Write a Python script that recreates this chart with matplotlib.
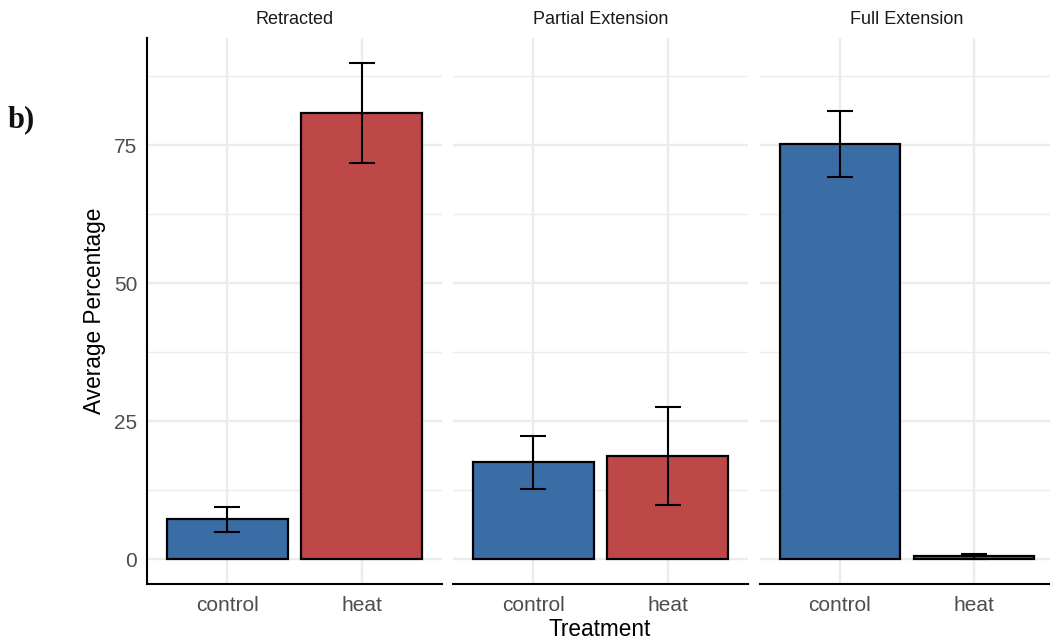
import matplotlib
matplotlib.use('Agg')
import matplotlib.pyplot as plt
from matplotlib.ticker import FixedLocator

plt.rcParams['font.family'] = ['Liberation Sans', 'DejaVu Sans']

# ---- data ----
panels = ['Retracted', 'Partial Extension', 'Full Extension']
treatments = ['control', 'heat']
means_control = [7.2, 17.6, 75.2]
means_heat = [80.8, 18.7, 0.5]
se_control = [2.3, 4.8, 6.0]
se_heat = [9.1, 8.8, 0.4]
y_ticks = [0, 25, 50, 75]
y_minor = [12.5, 37.5, 62.5, 87.5]

colors = {'control': '#3A6CA5', 'heat': '#BE4748'}

W, H = 1050, 641
fig = plt.figure(figsize=(W / 100, H / 100), dpi=100)

top_px, bot_px = 38, 584
lefts_px = [147, 453, 759.5]
width_px = 295

ymax_data = max(max(m + s for m, s in zip(means_control, se_control)),
                max(m + s for m, s in zip(means_heat, se_heat)))
pad = 0.05 * ymax_data
ylim = (-pad, ymax_data + pad)

for i, name in enumerate(panels):
    ax = fig.add_axes([lefts_px[i] / W, 1 - bot_px / H, width_px / W, (bot_px - top_px) / H])
    vals = [means_control[i], means_heat[i]]
    errs = [se_control[i], se_heat[i]]
    x = list(range(len(treatments)))
    ax.bar(x, vals, width=0.9, color=[colors[t] for t in treatments],
           edgecolor='black', linewidth=1.6, zorder=3)
    ax.errorbar(x, vals, yerr=errs, fmt='none', ecolor='black', elinewidth=1.5,
                capsize=9.5, capthick=1.5, zorder=4)
    ax.set_xlim(-0.6, 1.6)
    ax.set_ylim(*ylim)
    ax.set_xticks(x)
    ax.set_xticklabels(treatments)
    ax.yaxis.set_major_locator(FixedLocator(y_ticks))
    ax.yaxis.set_minor_locator(FixedLocator(y_minor))
    ax.grid(which='major', color='#EBEBEB', linewidth=1.7, zorder=0)
    ax.grid(which='minor', axis='y', color='#EBEBEB', linewidth=1.0, zorder=0)
    ax.set_axisbelow(True)
    for s in ['top', 'right']:
        ax.spines[s].set_visible(False)
    ax.spines['bottom'].set_color('black')
    ax.spines['bottom'].set_linewidth(1.5)
    if i == 0:
        ax.spines['left'].set_color('black')
        ax.spines['left'].set_linewidth(1.5)
    else:
        ax.spines['left'].set_visible(False)
    ax.tick_params(axis='both', which='both', length=0, labelsize=15, colors='#4D4D4D')
    ax.tick_params(axis='x', pad=8.5)
    ax.tick_params(axis='y', pad=7)
    if i > 0:
        ax.tick_params(axis='y', labelleft=False)
    cx = (lefts_px[i] + width_px / 2) / W
    fig.text(cx, 1 - 20 / H, name, ha='center', va='center', fontsize=13, color='#1A1A1A')

fig.text(600 / W, 1 - 629 / H, 'Treatment', ha='center', va='center', fontsize=16.3, color='black')
fig.text(95 / W, 1 - 311 / H, 'Average Percentage', ha='center', va='center', rotation=90,
         fontsize=16.3, color='black')
fig.text(8 / W, 1 - 120 / H, 'b)', ha='left', va='center', fontsize=22, fontweight='bold',
         family=['Liberation Serif', 'DejaVu Serif'], color='#111111')

fig.savefig('out.png', dpi=100)
